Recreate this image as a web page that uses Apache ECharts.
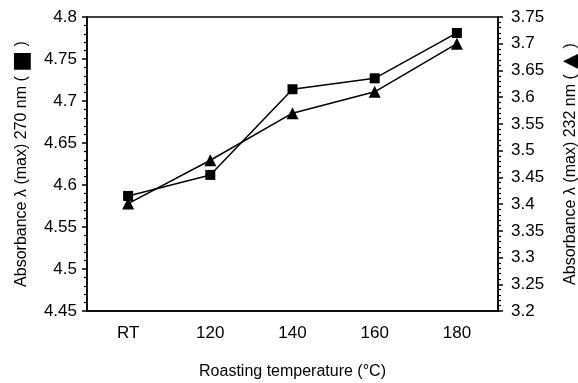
<!DOCTYPE html>
<html>
<head>
<meta charset="utf-8">
<script src="https://cdn.jsdelivr.net/npm/echarts@6/dist/echarts.min.js"></script>
<style>
  html, body { margin: 0; padding: 0; background: #fff; }
  #chart { width: 578px; height: 383px; }
</style>
</head>
<body>
<div id="chart"></div>
<script>
// roasting temperatures
const categories = ['RT', '120', '140', '160', '180'];
// absorbance at 270 nm (left axis, squares)
const abs270 = [4.587, 4.612, 4.714, 4.727, 4.781];
// absorbance at 232 nm (right axis, triangles)
const abs232 = [3.401, 3.482, 3.570, 3.610, 3.700];

const font = 'Liberation Sans, Arial, sans-serif';
const black = '#000';

const chart = echarts.init(document.getElementById('chart'));

const nameRich = {
    t: { fontFamily: font, fontSize: 16, color: black },
    s: { fontFamily: 'DejaVu Sans', fontSize: 22, color: black }
};

const yCommon = {
    type: 'value',
    interval: 0.05,
    axisLine: { show: true, lineStyle: { color: black, width: 1.5 } },
    axisTick: { show: true, inside: false, length: 5, lineStyle: { color: black, width: 1.5 } },
    minorTick: { show: true, splitNumber: 5, length: 3, lineStyle: { color: black, width: 1.2 } },
    splitLine: { show: false },
    axisLabel: { color: black, fontFamily: font, fontSize: 17, margin: 10 },
    nameLocation: 'middle',
    nameTextStyle: { color: black, fontFamily: font, fontSize: 16, rich: nameRich }
};

chart.setOption({
    animation: false,
    textStyle: { fontFamily: font, color: black },
    grid: {
        left: 87, right: 80, top: 17, bottom: 72,
        containLabel: false, outerBoundsMode: 'none',
        show: true, borderColor: black, borderWidth: 1.5
    },
    xAxis: [{
        type: 'category',
        data: categories,
        boundaryGap: true,
        axisLine: { lineStyle: { color: black, width: 1.5 } },
        axisTick: { length: 5, lineStyle: { color: black, width: 1.5 } },
        axisLabel: { color: black, fontFamily: font, fontSize: 17, margin: 14 },
        name: 'Roasting temperature (°C)',
        nameLocation: 'middle',
        nameGap: 53,
        nameTextStyle: { color: black, fontFamily: font, fontSize: 16 }
    }, {
        type: 'category',
        data: categories,
        position: 'bottom',
        boundaryGap: true,
        axisLine: { show: false },
        axisTick: { alignWithLabel: true, length: 3, lineStyle: { color: black, width: 1.2 } },
        axisLabel: { show: false }
    }],
    yAxis: [Object.assign({}, yCommon, {
        min: 4.45, max: 4.8,
        position: 'left',
        name: '{t|Absorbance λ (max) 270 nm ( }{s|■}{t| )}',
        nameGap: 53
    }), Object.assign({}, yCommon, {
        min: 3.2, max: 3.75,
        position: 'right',
        axisLabel: { color: black, fontFamily: font, fontSize: 17, margin: 13 },
        name: '{t|Absorbance λ (max) 232 nm ( }{s|▲}{t| )}',
        nameGap: 62,
        nameRotate: 90
    })],
    series: [{
        name: '270 nm',
        type: 'line',
        data: abs270,
        yAxisIndex: 0,
        symbol: 'rect',
        symbolSize: 10,
        lineStyle: { color: black, width: 1.5 },
        itemStyle: { color: black }
    }, {
        name: '232 nm',
        type: 'line',
        data: abs232,
        yAxisIndex: 1,
        symbol: 'triangle',
        symbolSize: 12,
        lineStyle: { color: black, width: 1.5 },
        itemStyle: { color: black }
    }]
});
</script>
</body>
</html>
